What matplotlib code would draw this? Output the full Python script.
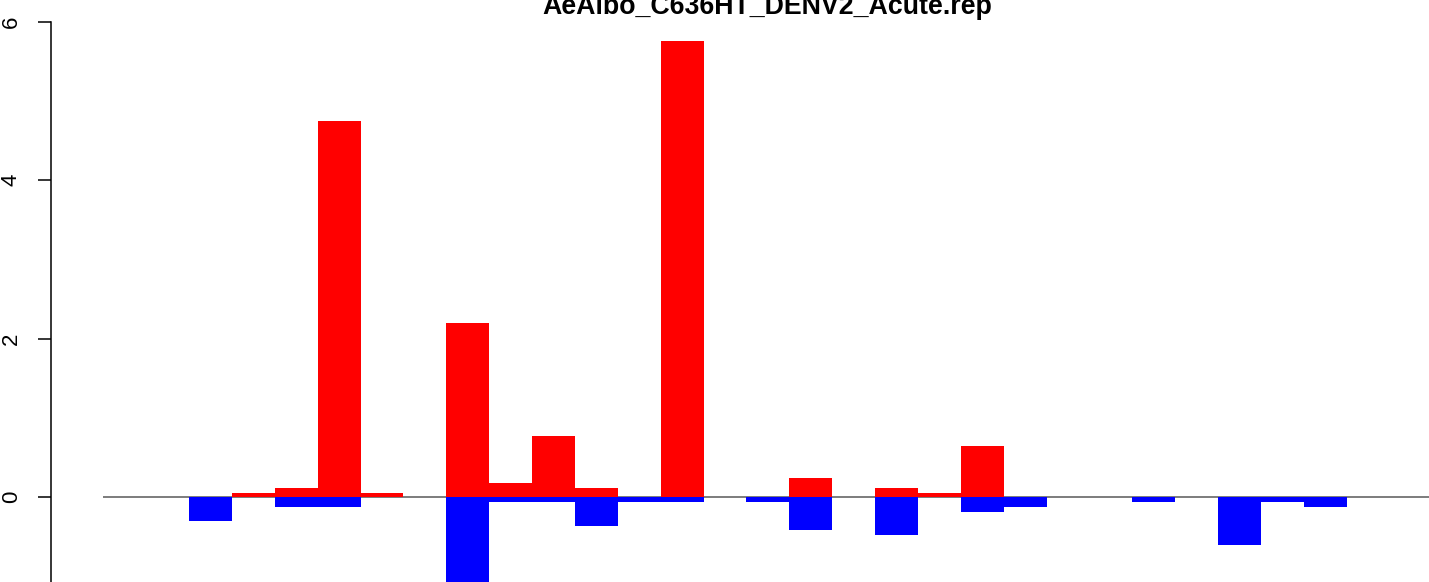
import matplotlib
matplotlib.use("Agg")
import matplotlib.pyplot as plt
import numpy as np

plt.rcParams['font.family'] = ['Liberation Sans', 'DejaVu Sans']

title = "AeAlbo_C636HT_DENV2_Acute.rep"
categories = list(range(31))
up_values = [0, 0, 0, 0.055, 0.118, 4.75, 0.055, 0,
             2.20, 0.18, 0.774, 0.118, 0, 5.76, 0,
             0, 0.244, 0, 0.118, 0.055, 0.648, 0, 0, 0,
             0, 0, 0, 0, 0, 0, 0]
down_values = [0, 0, -0.295, 0, -0.122, -0.122, 0, 0,
               -1.5, -0.059, -0.059, -0.362, -0.059, -0.059, 0,
               -0.059, -0.413, 0, -0.476, 0, -0.185, -0.122, 0, 0,
               -0.059, 0, -0.60, -0.059, -0.122, 0, 0]
y_ticks = [0, 2, 4, 6]

W, H = 1429, 582
dpi = 100
fig = plt.figure(figsize=(W / dpi, H / dpi), dpi=dpi)

left_px = 103.25
slot_px = 42.875
ax = fig.add_axes([left_px / W, 0, 1 - left_px / W, 1])
x = np.array(categories) + 0.5
ax.axhline(0, color='#666666', lw=1.2, zorder=1)
ax.bar(x, up_values, width=1.0, color='#FF0000', zorder=2, linewidth=0)
ax.bar(x, down_values, width=1.0, color='#0000FF', zorder=2, linewidth=0)

for s in ['top', 'right', 'bottom']:
    ax.spines[s].set_visible(False)
ax.spines['left'].set_position(('outward', (left_px - 50.5) * 72 / dpi))
ax.spines['left'].set_linewidth(1.1)
ax.set_xticks([])
ax.set_yticks(y_ticks)
ax.set_yticklabels([str(t) for t in y_ticks], rotation=90, va='center')
ax.tick_params(axis='y', length=9.7, width=1.1, pad=11.0, labelsize=16)

ax.set_xlim(0, (W - left_px) / slot_px)
ax.set_ylim(-1.0685, 6.274)
ax.spines['left'].set_bounds(-1.0685, 6)

fig.text(767.5 / W, 1 - 14.5 / H, title, ha='center', va='baseline',
         fontsize=19.3, fontweight='bold')

fig.savefig('out.png', dpi=dpi)
